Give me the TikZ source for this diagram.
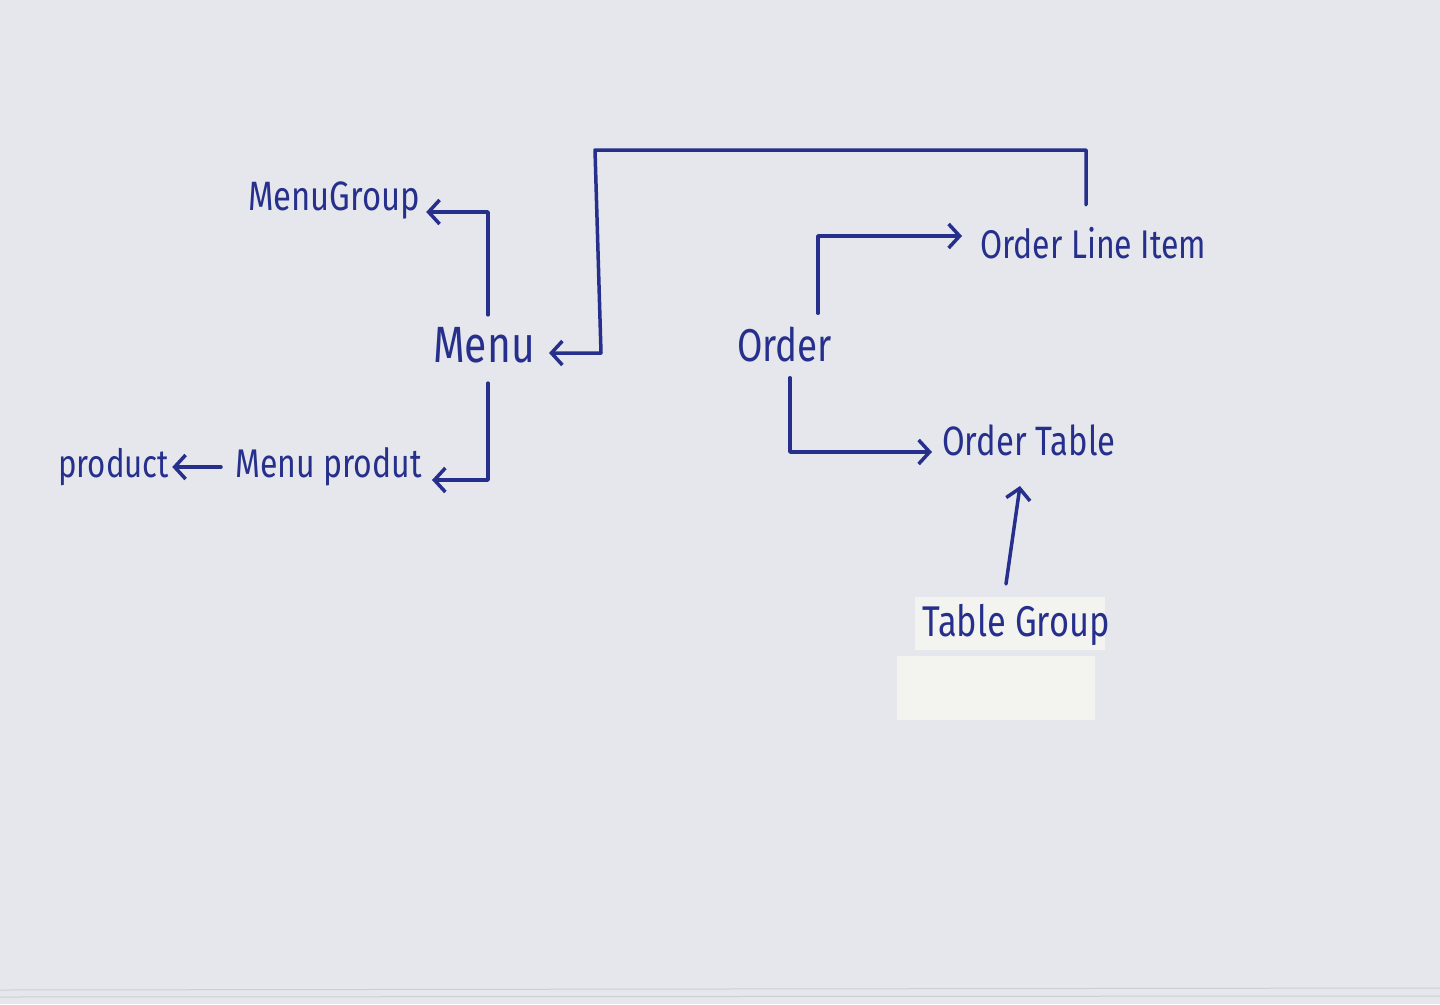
\documentclass[tikz,border=0pt]{standalone}
\usepackage{fontspec}
\setmainfont{Fira Sans}[FakeStretch=0.8]
\usetikzlibrary{arrows.meta}
\definecolor{ink}{RGB}{38,48,140}
\definecolor{paper}{RGB}{230,231,236}
\definecolor{tape}{RGB}{243,243,240}
\definecolor{edge}{RGB}{205,206,212}
\begin{document}
\begin{tikzpicture}[x=1pt,y=-1pt,
  lbl/.style={text=ink, inner sep=0pt, anchor=west},
  conn/.style={draw=ink, line width=3.5pt, line join=round, line cap=round,
    -{Straight Barb[length=11pt,width=24pt,line width=3.5pt]}}]
\fill[paper] (0,0) rectangle (1440,1004);
\useasboundingbox (0,0) rectangle (1440,1004);
% paper edges
\draw[edge, line width=1pt] (0,990) -- (1440,988);
\draw[edge, line width=1pt] (0,997) -- (1440,996);
% tapes
\fill[tape] (915,597) rectangle (1105,650);
\fill[tape!97!paper] (897,656) rectangle (1095,720);
% labels
\node[lbl,font=\fontsize{41}{41}\selectfont] (mg) at (248,200) {MenuGroup};
\node[lbl,font=\fontsize{51}{51}\selectfont] (menu) at (433,345) {Menu};
\node[lbl,font=\fontsize{40}{40}\selectfont] (mp) at (235,467) {Menu produt};
\node[lbl,font=\fontsize{39}{39}\selectfont] (prod) at (58,467) {product};
\node[lbl,font=\fontsize{46}{46}\selectfont] (order) at (737,345) {Order};
\node[lbl,font=\fontsize{40}{40}\selectfont] (oli) at (980,243) {Order Line Item};
\node[lbl,font=\fontsize{41}{41}\selectfont] (ot) at (942,440) {Order Table};
\node[lbl,font=\fontsize{43}{43}\selectfont] (tg) at (922,625) {Table Group};
% bends
\coordinate (b1) at (488,212);
\coordinate (b2) at (488,480);
\coordinate (t1) at (1086,150);
\coordinate (t2) at (595,150);
\coordinate (t3) at (601,353);
\coordinate (c1) at (818,236);
\coordinate (c2) at (790,452);
\coordinate (d1) at (1006,584);
\coordinate (d2) at (1020,486);
% connectors
\draw[conn] ([yshift=12pt]menu.north -| b1) -- (b1) -- ([xshift=6pt]mg.east |- b1);
\draw[conn] ([yshift=22pt]oli.north -| t1) -- (t1) -- (t2) -- (t3) -- ([xshift=14pt]menu.east |- t3);
\draw[conn] ([yshift=-20pt]menu.south -| b2) -- (b2) -- ([xshift=10pt]mp.east |- b2);
\draw[conn] ([xshift=-14pt]mp.west) -- ([xshift=3pt]prod.east);
\draw[conn] ([yshift=14pt]order.north -| c1) -- (c1) -- ([xshift=-18pt]oli.west |- c1);
\draw[conn] ([yshift=-15pt]order.south -| c2) -- (c2) -- ([xshift=-10pt]ot.west |- c2);
\draw[conn] (d1) -- (d2);
\end{tikzpicture}
\end{document}
